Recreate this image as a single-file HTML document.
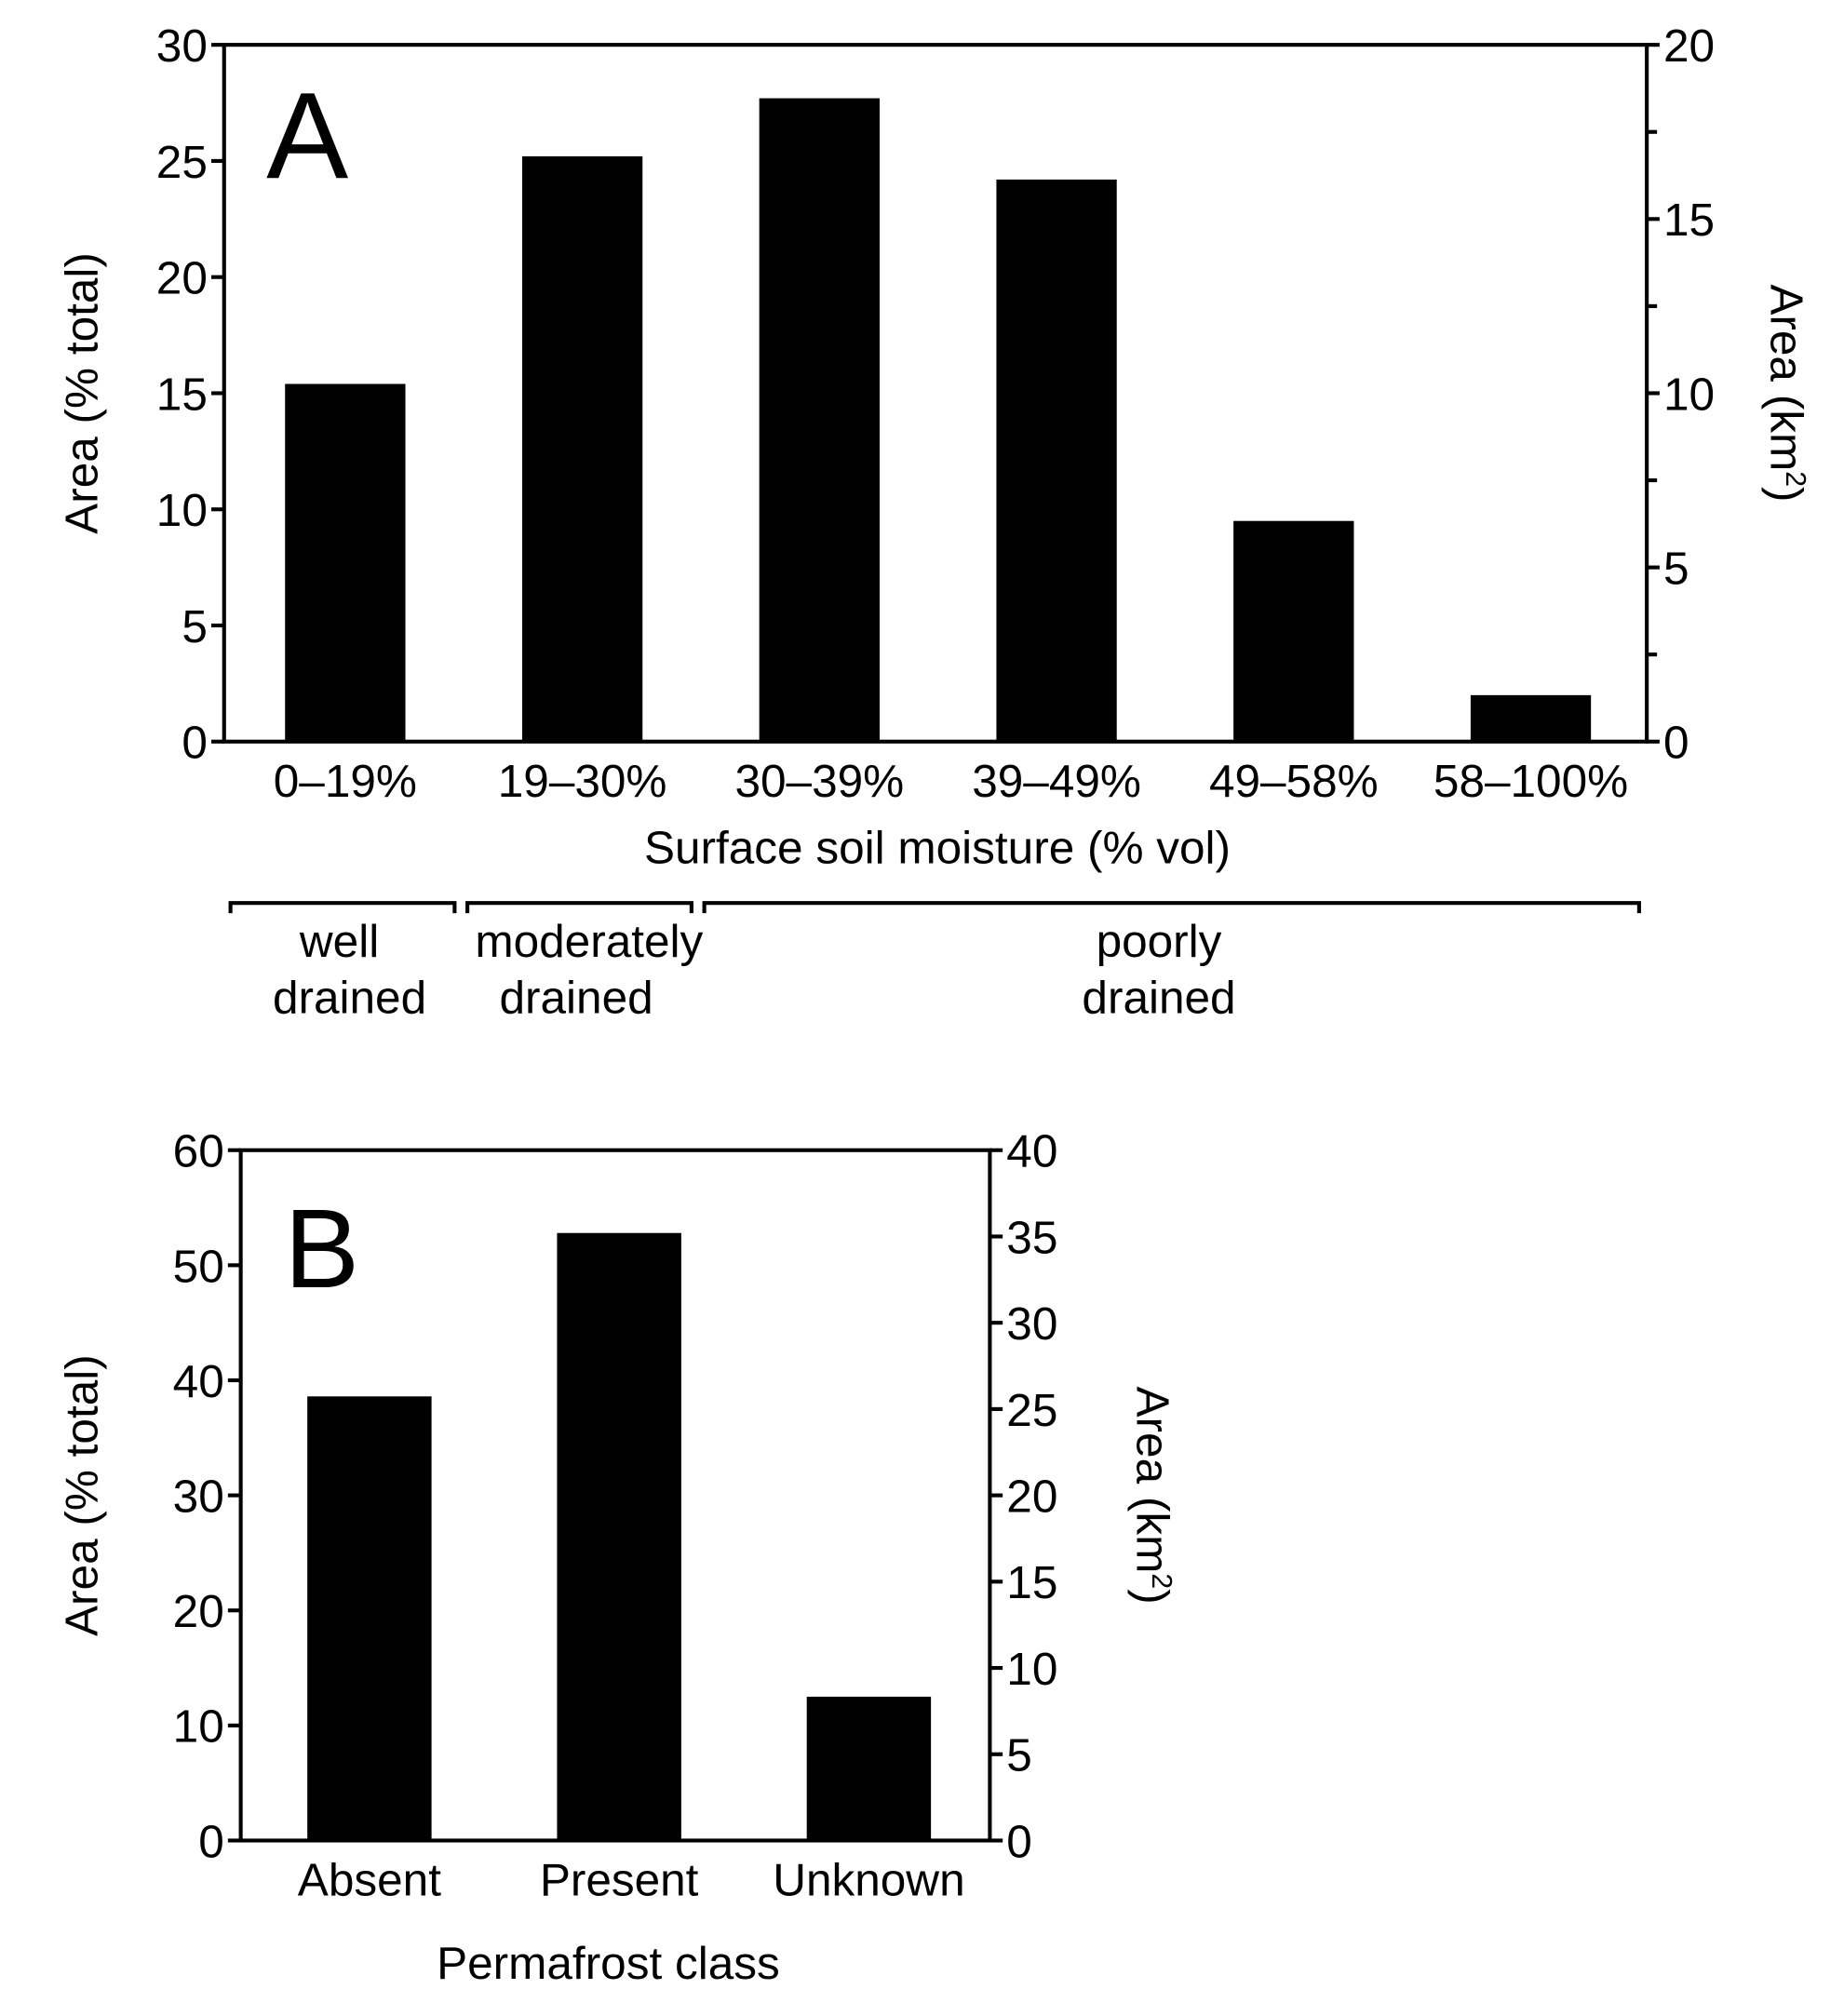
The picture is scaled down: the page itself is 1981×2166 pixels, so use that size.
<!DOCTYPE html>
<html><head><meta charset="utf-8"><style>
html,body{margin:0;padding:0;background:#fff;}
svg{display:block;}
text{font-family:"Liberation Sans",Arial,sans-serif;fill:#000;}
</style></head><body>
<svg id="fig" width="1981" height="2166" viewBox="0 0 1440 1574" preserveAspectRatio="none" xmlns="http://www.w3.org/2000/svg">
<g id="chartA"></g>
<g id="chartB"></g>
</svg>
<script>
const catsA = ["0–19%","19–30%","30–39%","39–49%","49–58%","58–100%"];
const valsA = [15.4,25.2,27.7,24.2,9.5,2.0];
const leftTicksA = [0,5,10,15,20,25,30];
const rightTicksA = [0,5,10,15,20];
const rightMinorA = [2.5,7.5,12.5,17.5];

const catsB = ["Absent","Present","Unknown"];
const valsB = [38.6,52.8,12.5];
const leftTicksB = [0,10,20,30,40,50,60];
const rightTicksB = [0,5,10,15,20,25,30,35,40];

const NS="http://www.w3.org/2000/svg";
const FS=36;
function mk(parent,tag,attrs,txt){const e=document.createElementNS(NS,tag);for(const k in attrs)e.setAttribute(k,attrs[k]);if(txt!==undefined)e.textContent=txt;parent.appendChild(e);return e;}

function drawChart(g,o){
  const y=v=>o.bottom-(v/o.lmax)*(o.bottom-o.top);
  const yr=v=>o.bottom-(v/o.rmax)*(o.bottom-o.top);
  const band=(o.right-o.left)/o.cats.length;
  const x=i=>o.left+band*(i+0.5)+o.shift;
  o.vals.forEach((v,i)=>{
    const r=mk(g,'rect',{x:x(i)-o.bw/2,y:y(v),width:o.bw,height:o.bottom-y(v),fill:'#000'});
    
    
    const t=mk(g,'text',{x:x(i),y:o.bottom+o.labOff,'font-size':FS,'text-anchor':'middle'},o.cats[i]);
    
    
  });
  const frame=mk(g,'rect',{x:o.left,y:o.top,width:o.right-o.left,height:o.bottom-o.top,fill:'none',stroke:'#000','stroke-width':3});
  
  
  o.lt.forEach(v=>{
    mk(g,'line',{x1:o.left-10,x2:o.left,y1:y(v),y2:y(v),stroke:'#000','stroke-width':3});
    const t=mk(g,'text',{x:o.left-13,y:y(v)+13,'font-size':FS,'text-anchor':'end'},v);
    
    
  });
  o.rt.forEach(v=>{
    mk(g,'line',{x1:o.right,x2:o.right+10,y1:yr(v),y2:yr(v),stroke:'#000','stroke-width':3});
    const t=mk(g,'text',{x:o.right+13,y:yr(v)+13,'font-size':FS,'text-anchor':'start'},v);
    
    
  });
  (o.rm||[]).forEach(v=>{
    mk(g,'line',{x1:o.right,x2:o.right+8,y1:yr(v),y2:yr(v),stroke:'#000','stroke-width':3});
  });
  const mid=(o.top+o.bottom)/2;
  const lt=mk(g,'text',{x:0,y:0,'font-size':FS,'text-anchor':'middle',transform:`translate(${o.ltx},${mid+o.tOff}) rotate(-90)`},'Area (% total)');
  
  
  const rt=mk(g,'text',{x:0,y:0,'font-size':FS,'text-anchor':'middle',transform:`translate(${o.rtx},${mid+o.tOff}) rotate(90)`});
  
  
  rt.innerHTML='Area (km<tspan font-size="22" dy="-12">2</tspan><tspan dy="12">)</tspan>';
  const pl=mk(g,'text',{x:o.px,y:o.py,'font-size':o.pfs},o.panel);
  
  
  const xt=mk(g,'text',{x:o.xtx,y:o.xty,'font-size':FS,'text-anchor':'middle'},o.xtitle);
  
  
}

const gA=document.getElementById('chartA');
drawChart(gA,{cats:catsA,vals:valsA,lmax:30,rmax:20,lt:leftTicksA,rt:rightTicksA,rm:rightMinorA,
  left:175,right:1286,top:35,bottom:579,bw:94,shift:2,labOff:43,ltx:76,rtx:1383,tOff:0,
  panel:'A',px:208,py:139,pfs:96,xtitle:'Surface soil moisture (% vol)',xtx:732,xty:674});
const gB=document.getElementById('chartB');
drawChart(gB,{cats:catsB,vals:valsB,lmax:60,rmax:40,lt:leftTicksB,rt:rightTicksB,
  left:188,right:773,top:898,bottom:1437,bw:97,shift:3,labOff:43,ltx:76,rtx:888,tOff:0,
  panel:'B',px:222,py:1005,pfs:88,xtitle:'Permafrost class',xtx:475,xty:1545});

const brackets=[[180,355],[365,540],[550,1280]];
brackets.forEach(b=>{
  const p=mk(gA,'path',{d:`M${b[0]},713 L${b[0]},705 L${b[1]},705 L${b[1]},713`,fill:'none',stroke:'#000','stroke-width':3});
  
  
});
const groups=[["well","drained",265,273],["moderately","drained",460,450],["poorly","drained",905,905]];
groups.forEach(g=>{
  const t1=mk(gA,'text',{x:g[2],y:747,'font-size':FS,'text-anchor':'middle'},g[0]);
  
  
  const t2=mk(gA,'text',{x:g[3],y:791,'font-size':FS,'text-anchor':'middle'},g[1]);
  
  
});
</script>
</body></html>
